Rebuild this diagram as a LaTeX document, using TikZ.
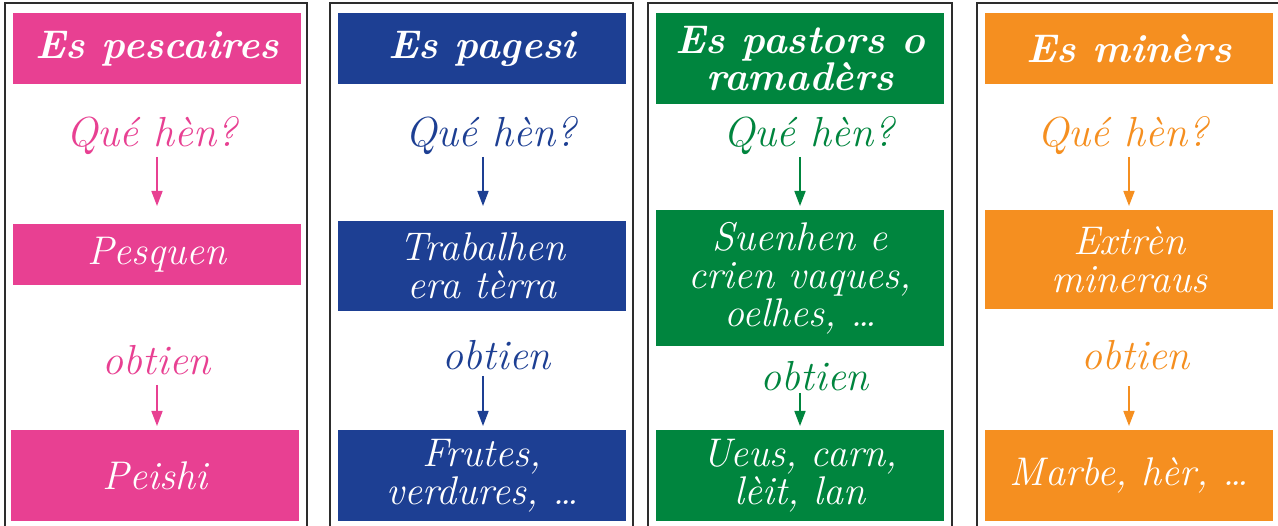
\documentclass[tikz,border=0pt]{standalone}
\usepackage{fontspec}
\usetikzlibrary{arrows.meta}
\definecolor{cpink}{RGB}{232,64,146}
\definecolor{cblue}{RGB}{29,63,147}
\definecolor{cgreen}{RGB}{0,133,62}
\definecolor{corange}{RGB}{245,143,32}
\definecolor{cframe}{RGB}{45,45,45}
\tikzset{
  panel/.style={draw=cframe, line width=2.2pt},
  hdr/.style={fill=#1, text=white, inner sep=0pt, anchor=north west, align=center,
    font=\fontsize{40}{35}\selectfont\bfseries\itshape},
  cbox/.style={fill=#1, text=white, inner sep=0pt, anchor=north west, align=center,
    font=\fontsize{40}{38}\selectfont\itshape\addfontfeatures{LetterSpace=9}},
  lbl/.style={text=#1, anchor=base, inner sep=0pt,
    font=\fontsize{42}{38}\selectfont\itshape\addfontfeatures{LetterSpace=10}},
  arr/.style={draw=#1, line width=1.6pt, -{Triangle[width=11pt,length=15pt]}}
}
\begin{document}
\begin{tikzpicture}[x=1pt,y=-1pt]
\clip (0,0) rectangle (1278,526);
\fill[white] (0,0) rectangle (1278,526);
% frames
\draw[panel] (5,540) -- (5,3) -- (307,3) -- (307,540);
\draw[panel] (330,540) -- (330,3) -- (633,3) -- (633,540);
\draw[panel] (648,540) -- (648,3) -- (952,3) -- (952,540);
\draw[panel] (977,540) -- (977,3) -- (1290,3);
% ---------- panel 1 ----------
\node[hdr=cpink, minimum width=288pt, minimum height=71pt] (h1) at (13,13) {Es pescaires};
\node[lbl=cpink] (q1) at (152,147) {Qué hèn?};
\coordinate (q1s) at (157,157);
\coordinate (q1e) at (157,206);
\node[cbox=cpink, minimum width=288pt, minimum height=61pt] (b1) at (13,224) {Pesquen};
\node[lbl=cpink] (o1) at (157,375) {obtien};
\coordinate (o1s) at (157,385);
\coordinate (o1e) at (157,426);
\node[cbox=cpink, minimum width=288pt, minimum height=91pt] (c1) at (11,430) {Peishi};
\draw[arr=cpink] (q1s) -- (q1e);
\draw[arr=cpink] (o1s) -- (o1e);
% ---------- panel 2 ----------
\node[hdr=cblue, minimum width=288pt, minimum height=71pt] (h2) at (338,13) {Es pagesi};
\node[lbl=cblue] (q2) at (491,147) {Qué hèn?};
\coordinate (q2s) at (483,157);
\coordinate (q2e) at (483,206);
\node[cbox=cblue, minimum width=288pt, minimum height=90pt] (b2) at (338,221) {Trabalhen\\era tèrra};
\node[lbl=cblue] (o2) at (497,370) {obtien};
\coordinate (o2s) at (483,376);
\coordinate (o2e) at (483,426);
\node[cbox=cblue, minimum width=288pt, minimum height=91pt] (c2) at (338,430) {Frutes,\\verdures, \dots};
\draw[arr=cblue] (q2s) -- (q2e);
\draw[arr=cblue] (o2s) -- (o2e);
% ---------- panel 3 ----------
\node[hdr=cgreen, minimum width=288pt, minimum height=91pt] (h3) at (656,13) {Es pastors o\\ramadèrs};
\node[lbl=cgreen] (q3) at (809,147) {Qué hèn?};
\coordinate (q3s) at (800,157);
\coordinate (q3e) at (800,206);
\node[cbox=cgreen, minimum width=288pt, minimum height=136pt] (b3) at (656,210) {Suenhen e\\crien vaques,\\oelhes, \dots};
\node[lbl=cgreen] (o3) at (815,391) {obtien};
\coordinate (o3s) at (800,393);
\coordinate (o3e) at (800,426);
\node[cbox=cgreen, minimum width=288pt, minimum height=91pt] (c3) at (656,430) {Ueus, carn,\\lèit, lan};
\draw[arr=cgreen] (q3s) -- (q3e);
\draw[arr=cgreen] (o3s) -- (o3e);
% ---------- panel 4 ----------
\node[hdr=corange, minimum width=288pt, minimum height=71pt] (h4) at (985,13) {Es minèrs};
\node[lbl=corange] (q4) at (1123,147) {Qué hèn?};
\coordinate (q4s) at (1129,157);
\coordinate (q4e) at (1129,206);
\node[cbox=corange, minimum width=288pt, minimum height=99pt] (b4) at (985,210) {Extrèn\\mineraus};
\node[lbl=corange] (o4) at (1136,370) {obtien};
\coordinate (o4s) at (1129,386);
\coordinate (o4e) at (1129,426);
\node[cbox=corange, minimum width=288pt, minimum height=91pt] (c4) at (985,430) {Marbe, hèr, \dots};
\draw[arr=corange] (q4s) -- (q4e);
\draw[arr=corange] (o4s) -- (o4e);
\end{tikzpicture}
\end{document}
